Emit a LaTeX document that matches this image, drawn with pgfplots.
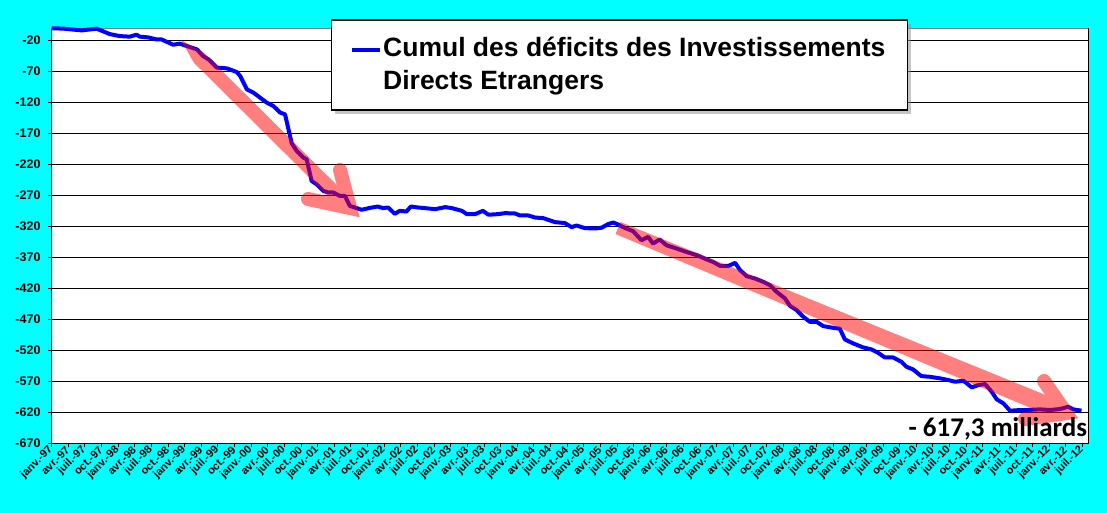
\documentclass[border=0pt]{standalone}
\usepackage{fontspec}
\setmainfont{Liberation Sans}
\newfontfamily\calibri{Carlito}
\usepackage{pgfplots}
\pgfplotsset{compat=1.18}
\usetikzlibrary{shadows}
\definecolor{bgcyan}{RGB}{0,255,255}
\definecolor{lineblue}{RGB}{0,0,255}
\definecolor{arrowred}{RGB}{255,0,0}
\begin{document}
\begin{tikzpicture}[x=1pt,y=1pt]
\fill[bgcyan] (0,0) rectangle (1107,513);
\begin{axis}[
  at={(51.7pt,69.7pt)}, anchor=south west,
  scale only axis, width=1037pt, height=415pt,
  xmin=0, xmax=187.1, ymin=-670, ymax=0,
  axis lines*=left,
  axis line style={black, line width=1.5pt, -},
  axis background/.style={fill=white},
  clip=false,
  ytick={-670,-620,-570,-520,-470,-420,-370,-320,-270,-220,-170,-120,-70,-20},
  yticklabels={-670,-620,-570,-520,-470,-420,-370,-320,-270,-220,-170,-120,-70,-20},
  ymajorgrids,
  grid style={black, line width=1.2pt},
  xtick={0,3,...,186},
  xticklabels={janv.-97,avr.-97,juil.-97,oct.-97,janv.-98,avr.-98,juil.-98,oct.-98,janv.-99,avr.-99,juil.-99,oct.-99,janv.-00,avr.-00,juil.-00,oct.-00,janv.-01,avr.-01,juil.-01,oct.-01,janv.-02,avr.-02,juil.-02,oct.-02,janv.-03,avr.-03,juil.-03,oct.-03,janv.-04,avr.-04,juil.-04,oct.-04,janv.-05,avr.-05,juil.-05,oct.-05,janv.-06,avr.-06,juil.-06,oct.-06,janv.-07,avr.-07,juil.-07,oct.-07,janv.-08,avr.-08,juil.-08,oct.-08,janv.-09,avr.-09,juil.-09,oct.-09,janv.-10,avr.-10,juil.-10,oct.-10,janv.-11,avr.-11,juil.-11,oct.-11,janv.-12,avr.-12,juil.-12},
  tick align=outside, major tick length=4pt,
  tick style={black, line width=1pt},
  x tick label style={rotate=45, anchor=east, font=\bfseries\fontsize{11}{11}\selectfont, inner sep=1pt},
  y tick label style={font=\bfseries\fontsize{12.5}{12.5}\selectfont, inner sep=2pt, xshift=-5pt},
]
\draw[gray, line width=1.5pt] (rel axis cs:0,1) -- (rel axis cs:1,1);
\draw[black, line width=1.5pt] (rel axis cs:1,0) -- (rel axis cs:1,1);
\addplot[lineblue, line width=4pt, line join=round] coordinates {
(0,0) (2.1,-0.5) (5.4,-3.4) (8.1,-0.6) (10.5,-9.4) (12.3,-12.6) (14.1,-13.5)
(15.3,-10.3) (15.9,-13.5) (17.4,-14.7) (18.9,-17.9) (19.8,-17.9) (21.9,-26.5)
(23.1,-24.8) (24.4,-28.7) (26.2,-34) (27.3,-44.8) (28.3,-50.2) (29.8,-63.5)
(31.6,-64.7) (33.4,-70.6) (34,-77) (35.2,-98.5) (36.4,-103.9) (37.6,-112)
(38.8,-120) (40,-125.5) (41.2,-136) (42.1,-138.9) (43.3,-185.6) (44.2,-198)
(45.4,-208.7) (46,-211.5) (46.9,-246.5) (47.8,-251.8) (49,-262.6) (49.9,-265)
(50.8,-265) (52,-270.6) (52.9,-270.6) (53.8,-286.8) (54.7,-289.4) (55.9,-293)
(57.4,-290) (58.8,-287.7) (59.8,-290.3) (60.7,-289.3) (61.9,-299.5) (62.8,-294.7)
(64,-295.8) (64.8,-287.7) (66.1,-289.3) (67.3,-290.3) (69.2,-292) (71,-288.7)
(72.2,-290.3) (74,-294.7) (74.9,-300) (76.4,-300) (77.8,-294.7) (78.8,-301)
(80.6,-300) (81.8,-298.4) (83.6,-299) (84.5,-302.2) (86,-302.2) (87.2,-305.5)
(88.7,-306.5) (90.8,-312.9) (92.6,-314.5) (93.8,-321) (94.7,-318.4) (96.2,-322.6)
(98,-323.2) (99.2,-322) (100.4,-316.1) (101.3,-313.5) (102.2,-316.8) (103.4,-322.2)
(104.9,-327.6) (106.4,-342.1) (107.6,-336.7) (108.5,-347.5) (109.7,-341) (110.9,-350.2)
(112.7,-355.5) (114.5,-361) (116.4,-366.3) (118.2,-373.2) (119.3,-377.1) (120.6,-383.6)
(122.1,-383.6) (123.3,-378.7) (124.2,-390.5) (125.4,-400.2) (126.9,-404) (128.4,-409.4)
(129.6,-414.7) (130.8,-425.5) (132.3,-436.2) (133.2,-448.1) (134.4,-455) (135.6,-465.8)
(136.8,-473.9) (138,-473.9) (139.2,-480.8) (141,-483.6) (142.2,-485) (143.1,-502.3)
(144.6,-508.7) (146.4,-515.2) (147.9,-518.4) (149.1,-523.9) (150.3,-531.3) (151.8,-531.3)
(153.3,-538.4) (154.2,-546.4) (155.4,-550.7) (156.9,-561.5) (158.4,-562.6) (160.3,-565.2)
(161.8,-567.9) (163,-570.6) (164.5,-569) (166,-579.7) (167.2,-576) (168.4,-574.4)
(169.6,-586.8) (170.5,-599) (171.7,-605.5) (172.9,-617.4) (174.7,-616.3) (175.9,-616.3)
(178.3,-615.2) (180.1,-616.3) (181.9,-614.7) (183.4,-611) (184.3,-615.2) (185.8,-617.3)
};
\end{axis}
% legend box
\node[draw=black, line width=1.2pt, fill=white, inner sep=0pt,
      drop shadow={shadow xshift=4pt, shadow yshift=-4pt, fill=black!45},
      minimum width=576pt, minimum height=90pt, anchor=north west] at (330.5,493.5) {};
\draw[lineblue, line width=4pt] (352,463) -- (380,463);
\node[anchor=base west, inner sep=0pt, font=\bfseries\fontsize{26.5}{26.5}\selectfont] at (383,456) {Cumul des déficits des Investissements};
\node[anchor=base west, inner sep=0pt, font=\bfseries\fontsize{26.5}{26.5}\selectfont] at (383,423) {Directs Etrangers};
% annotation arrows (semi-transparent red)
\begin{scope}[transparency group, opacity=0.5]
  \fill[arrowred] (181,473) -- (203.6,460.4) -- (354.9,310) -- (345.1,300) -- (193.8,450.4) -- cycle;
  \draw[arrowred, line width=14pt, line cap=round, line join=miter] (340,343) -- (350,305) -- (308,314);
  \fill[arrowred] (620.5,291) -- (1069.4,108.3) -- (1062.6,91.7) -- (615.5,279) -- cycle;
  \draw[arrowred, line width=14pt, line cap=round, line join=miter] (1044,132) -- (1066,100) -- (1025,94);
\end{scope}
\node[anchor=base east, inner sep=0pt, font=\calibri\bfseries\fontsize{27}{27}\selectfont] at (1087.3,76.3) {- 617,3 milliards};
\pgfresetboundingbox
\path (0,0) rectangle (1107,513);
\end{tikzpicture}
\end{document}
